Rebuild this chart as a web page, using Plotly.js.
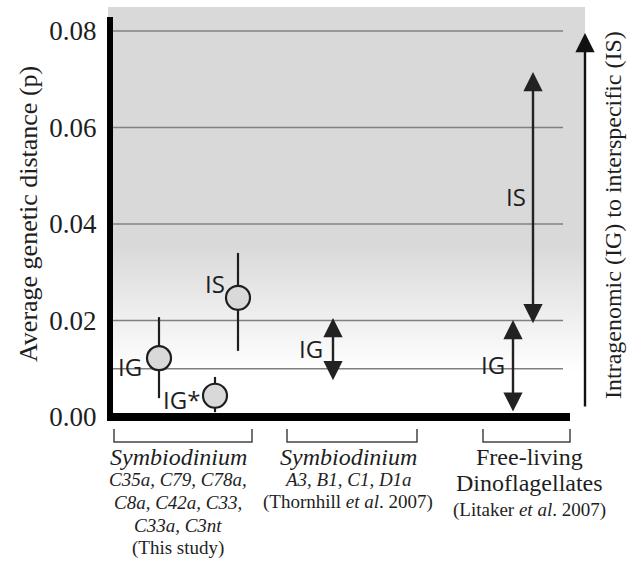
<!DOCTYPE html>
<html>
<head>
<meta charset="utf-8">
<script src="https://cdn.plot.ly/plotly-3.0.1.min.js"></script>
<style>html,body{margin:0;padding:0;background:#fff;}#chart{width:632px;height:561px;}</style>
</head>
<body>
<div id="chart"></div>
<script>
// ---- data ----
const yTickVals = [0, 0.02, 0.04, 0.06, 0.08];
const yTickText = ['0.00', '0.02', '0.04', '0.06', '0.08'];
const gridVals = [0.01, 0.02, 0.04, 0.06, 0.08];

// this study: mean +/- range
const pointLabels = ['IG', 'IG*', 'IS'];
const pointX = [5.2, 10.8, 13.1];
const pointY = [0.0122, 0.0044, 0.0247];
const pointErrPlus = [0.0085, 0.0039, 0.0093];
const pointErrMinus = [0.0083, 0.0034, 0.0110];

// literature ranges (double arrows)
const rangeLabels = ['IG', 'IG', 'IS'];
const rangeX = [22.6, 40.6, 42.6];
const rangeLow = [0.0073, 0.0008, 0.0191];
const rangeHigh = [0.0205, 0.0201, 0.0715];
const rangeLabelY = [0.0141, 0.0108, 0.0458];

// category groups under the axis
const groupTitles = ['<i>Symbiodinium</i>', '<i>Symbiodinium</i>', 'Free-living'];
const groupLines = [
  ['<i>C35a, C79, C78a,</i>', '<i>C8a, C42a, C33,</i>', '<i>C33a, C3nt</i>', '(This study)'],
  ['<i>A3, B1, C1, D1a</i>', '(Thornhill <i>et al</i>. 2007)'],
  ['Dinoflagellates', '(Litaker <i>et al</i>. 2007)']
];
const yTitle = 'Average genetic distance (p)';
const rightTitle = 'Intragenomic (IG) to interspecific (IS)';

// ---- layout helpers (pixel -> paper) ----
const L = 107, R = 590, T = 7, B = 422;
const px = x => (x - L) / (R - L);
const py = y => (B - y) / (B - T);
const yMin = -0.00104, yMax = 0.08497;

const serif = 'Liberation Serif';
const sans = 'Open Sans';
const ink = '#1e1e1e';

const traces = [];
// shaded background with vertical gradient
traces.push({
  type: 'scatter', mode: 'lines',
  x: [0.1, 47.8, 47.8, 0.1, 0.1],
  y: [yMax, yMax, yMin, yMin, yMax],
  fill: 'toself',
  fillgradient: {type: 'vertical', start: 0, stop: yMax,
    colorscale: [[0, '#ffffff'], [0.11, '#ffffff'], [0.42, '#d9d9d9'], [1, '#d9d9d9']]},
  line: {width: 0}, hoverinfo: 'skip', showlegend: false
});
// gridlines
const gx = [], gy = [];
gridVals.forEach(v => { gx.push(0.6, 45.6, null); gy.push(v, v, null); });
traces.push({type: 'scatter', mode: 'lines', x: gx, y: gy,
  line: {color: '#808080', width: 1.5}, hoverinfo: 'skip', showlegend: false});
// points with error bars
traces.push({
  type: 'scatter', mode: 'markers', x: pointX, y: pointY,
  error_y: {type: 'data', symmetric: false, array: pointErrPlus, arrayminus: pointErrMinus,
    thickness: 2.2, width: 0, color: ink},
  marker: {symbol: 'circle', size: 24, color: '#d9d9d9', line: {color: ink, width: 2.2}},
  hoverinfo: 'skip', showlegend: false
});

const annotations = [];
// point labels
const ptShift = [[-15, -8], [-13, -4], [-11, 14]];
pointLabels.forEach((t, i) => annotations.push({
  xref: 'x', yref: 'y', x: pointX[i], y: pointY[i], text: t, showarrow: false,
  xanchor: 'right', yanchor: 'middle', xshift: ptShift[i][0], yshift: ptShift[i][1],
  font: {family: sans, size: 24, color: ink}
}));
// range arrows + labels
const rShift = [-8, -6, -5];
rangeX.forEach((x, i) => {
  annotations.push({
    xref: 'x', yref: 'y', axref: 'x', ayref: 'y',
    x: x, y: rangeHigh[i], ax: x, ay: rangeLow[i], text: '',
    showarrow: true, arrowside: 'end+start', arrowhead: 2, startarrowhead: 2,
    arrowsize: 1.6, startarrowsize: 1.6, arrowwidth: 2.4, arrowcolor: '#222',
    standoff: 0, startstandoff: 0
  });
  annotations.push({
    xref: 'x', yref: 'y', x: x, y: rangeLabelY[i], text: rangeLabels[i], showarrow: false,
    xanchor: 'right', yanchor: 'middle', xshift: rShift[i],
    font: {family: sans, size: 24, color: ink}
  });
});
// right-hand direction arrow
annotations.push({
  xref: 'paper', yref: 'paper', axref: 'pixel', ayref: 'pixel',
  x: px(585), y: py(33), ax: 0, ay: 375, text: '',
  showarrow: true, arrowside: 'end', arrowhead: 2, arrowsize: 1.6, arrowwidth: 2.4,
  arrowcolor: '#111', standoff: 0
});
annotations.push({
  xref: 'paper', yref: 'paper', x: px(613), y: py(215), text: rightTitle, textangle: -90,
  showarrow: false, xanchor: 'center', yanchor: 'middle',
  font: {family: serif, size: 24, color: ink}
});
// y title
annotations.push({
  xref: 'paper', yref: 'paper', x: px(29), y: py(214), text: yTitle, textangle: -90,
  showarrow: false, xanchor: 'center', yanchor: 'middle',
  font: {family: serif, size: 26, color: ink}
});
// group labels
const gCenter = [178, 348, 529];
const gTitleY = 457;
const gLineY = [[479, 502, 525, 548], [479, 502], [483, 510]];
groupTitles.forEach((t, i) => {
  annotations.push({xref: 'paper', yref: 'paper', x: px(gCenter[i]), y: py(gTitleY), text: t,
    showarrow: false, xanchor: 'center', yanchor: 'middle',
    font: {family: serif, size: 24, color: ink}});
  groupLines[i].forEach((ln, j) => {
    const big = (i === 2 && j === 0);
    annotations.push({xref: 'paper', yref: 'paper', x: px(gCenter[i]), y: py(gLineY[i][j]), text: ln,
      showarrow: false, xanchor: 'center', yanchor: 'middle',
      font: {family: serif, size: big ? 24 : 19, color: ink}});
  });
});

// frame bars and brackets
const shapes = [];
shapes.push({type: 'rect', xref: 'paper', yref: 'paper', x0: px(107), x1: px(113), y0: py(421), y1: py(17),
  fillcolor: '#000', line: {width: 0}, layer: 'above'});
shapes.push({type: 'rect', xref: 'paper', yref: 'paper', x0: px(107), x1: px(570), y0: py(421), y1: py(413),
  fillcolor: '#000', line: {width: 0}, layer: 'above'});
const brackets = [[114, 252], [287, 417], [483, 570]];
brackets.forEach(b => {
  shapes.push({type: 'path', xref: 'paper', yref: 'paper',
    path: `M ${px(b[0])} ${py(429)} L ${px(b[0])} ${py(442)} L ${px(b[1])} ${py(442)} L ${px(b[1])} ${py(429)}`,
    line: {color: '#444', width: 1.5}});
});

const layout = {
  width: 632, height: 561,
  margin: {l: L, r: 632 - R, t: T, b: 561 - B, pad: 0},
  paper_bgcolor: '#fff', plot_bgcolor: 'rgba(0,0,0,0)',
  showlegend: false,
  font: {family: serif},
  xaxis: {range: [0, 48.3], visible: false, fixedrange: true},
  yaxis: {range: [yMin, yMax], tickvals: yTickVals, ticktext: yTickText,
    showgrid: false, zeroline: false, showline: false,
    ticks: 'outside', ticklen: 4, tickcolor: 'rgba(0,0,0,0)',
    tickfont: {family: serif, size: 27, color: ink}, fixedrange: true},
  annotations: annotations,
  shapes: shapes
};

Plotly.newPlot('chart', traces, layout, {staticPlot: true, displayModeBar: false});
</script>
</body>
</html>
